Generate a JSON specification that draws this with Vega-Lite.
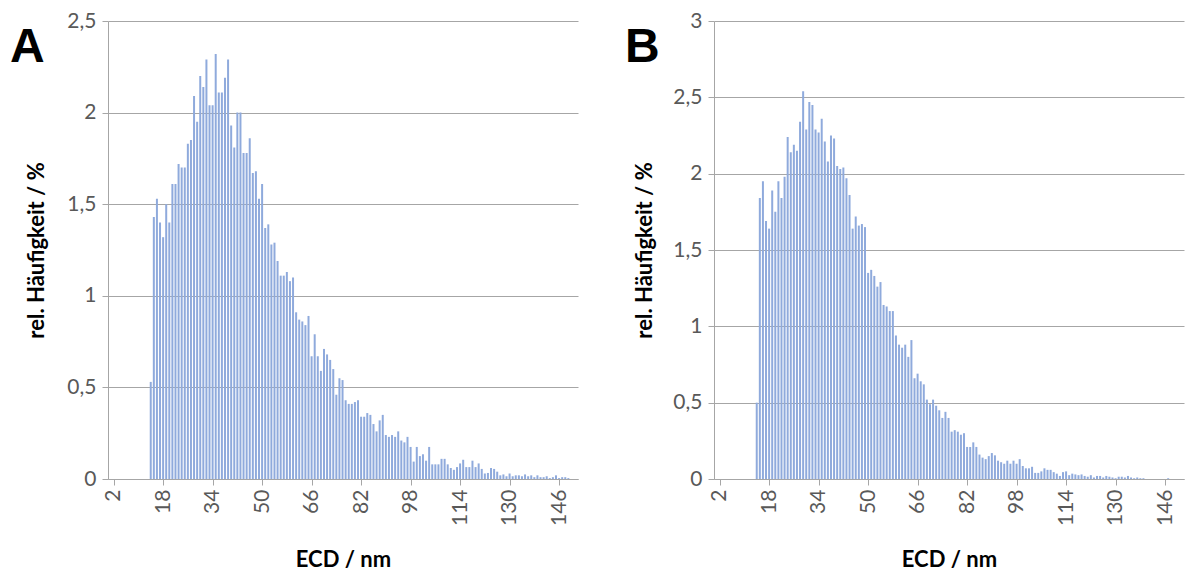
{
  "$schema": "https://vega.github.io/schema/vega-lite/v6.json",
  "padding": {"left": 10, "top": 10, "right": 5, "bottom": 0},
  "datasets": {
    "A": [
      {"ecd":14,"p":0.53},{"ecd":15,"p":1.43},{"ecd":16,"p":1.53},{"ecd":17,"p":1.40},{"ecd":18,"p":1.32},{"ecd":19,"p":1.50},{"ecd":20,"p":1.40},{"ecd":21,"p":1.61},{"ecd":22,"p":1.61},{"ecd":23,"p":1.72},{"ecd":24,"p":1.70},{"ecd":25,"p":1.70},{"ecd":26,"p":1.83},{"ecd":27,"p":1.85},{"ecd":28,"p":2.09},{"ecd":29,"p":1.95},{"ecd":30,"p":2.20},{"ecd":31,"p":2.14},{"ecd":32,"p":2.29},{"ecd":33,"p":2.04},{"ecd":34,"p":2.04},{"ecd":35,"p":2.32},{"ecd":36,"p":2.11},{"ecd":37,"p":2.11},{"ecd":38,"p":2.19},{"ecd":39,"p":2.29},{"ecd":40,"p":1.93},{"ecd":41,"p":1.81},{"ecd":42,"p":2.00},{"ecd":43,"p":2.00},{"ecd":44,"p":1.78},{"ecd":45,"p":1.78},{"ecd":46,"p":1.86},{"ecd":47,"p":1.67},{"ecd":48,"p":1.68},{"ecd":49,"p":1.53},{"ecd":50,"p":1.61},{"ecd":51,"p":1.37},{"ecd":52,"p":1.39},{"ecd":53,"p":1.28},{"ecd":54,"p":1.29},{"ecd":55,"p":1.19},{"ecd":56,"p":1.11},{"ecd":57,"p":1.11},{"ecd":58,"p":1.13},{"ecd":59,"p":1.08},{"ecd":60,"p":1.10},{"ecd":61,"p":0.91},{"ecd":62,"p":0.87},{"ecd":63,"p":0.86},{"ecd":64,"p":0.84},{"ecd":65,"p":0.89},{"ecd":66,"p":0.67},{"ecd":67,"p":0.79},{"ecd":68,"p":0.67},{"ecd":69,"p":0.59},{"ecd":70,"p":0.71},{"ecd":71,"p":0.68},{"ecd":72,"p":0.65},{"ecd":73,"p":0.60},{"ecd":74,"p":0.46},{"ecd":75,"p":0.55},{"ecd":76,"p":0.54},{"ecd":77,"p":0.43},{"ecd":78,"p":0.41},{"ecd":79,"p":0.41},{"ecd":80,"p":0.42},{"ecd":81,"p":0.43},{"ecd":82,"p":0.34},{"ecd":83,"p":0.34},{"ecd":84,"p":0.36},{"ecd":85,"p":0.35},{"ecd":86,"p":0.30},{"ecd":87,"p":0.26},{"ecd":88,"p":0.32},{"ecd":89,"p":0.35},{"ecd":90,"p":0.24},{"ecd":91,"p":0.23},{"ecd":92,"p":0.24},{"ecd":93,"p":0.23},{"ecd":94,"p":0.26},{"ecd":95,"p":0.21},{"ecd":96,"p":0.20},{"ecd":97,"p":0.23},{"ecd":98,"p":0.175},{"ecd":99,"p":0.095},{"ecd":100,"p":0.175},{"ecd":101,"p":0.125},{"ecd":102,"p":0.135},{"ecd":103,"p":0.10},{"ecd":104,"p":0.175},{"ecd":105,"p":0.08},{"ecd":106,"p":0.08},{"ecd":107,"p":0.08},{"ecd":108,"p":0.11},{"ecd":109,"p":0.11},{"ecd":110,"p":0.08},{"ecd":111,"p":0.06},{"ecd":112,"p":0.05},{"ecd":113,"p":0.065},{"ecd":114,"p":0.085},{"ecd":115,"p":0.105},{"ecd":116,"p":0.065},{"ecd":117,"p":0.065},{"ecd":118,"p":0.10},{"ecd":119,"p":0.065},{"ecd":120,"p":0.085},{"ecd":121,"p":0.055},{"ecd":122,"p":0.03},{"ecd":123,"p":0.033},{"ecd":124,"p":0.06},{"ecd":125,"p":0.055},{"ecd":126,"p":0.04},{"ecd":127,"p":0.02},{"ecd":128,"p":0.025},{"ecd":129,"p":0.015},{"ecd":130,"p":0.03},{"ecd":131,"p":0.015},{"ecd":132,"p":0.02},{"ecd":133,"p":0.02},{"ecd":134,"p":0.015},{"ecd":135,"p":0.025},{"ecd":136,"p":0.015},{"ecd":137,"p":0.02},{"ecd":138,"p":0.01},{"ecd":139,"p":0.02},{"ecd":140,"p":0.01},{"ecd":141,"p":0.01},{"ecd":142,"p":0.015},{"ecd":143,"p":0.005},{"ecd":144,"p":0.01},{"ecd":145,"p":0.02},{"ecd":146,"p":0.005},{"ecd":147,"p":0.01},{"ecd":148,"p":0.01},{"ecd":149,"p":0.005}
    ],
    "B": [
      {"ecd":14,"p":0.50},{"ecd":15,"p":1.84},{"ecd":16,"p":1.95},{"ecd":17,"p":1.69},{"ecd":18,"p":1.64},{"ecd":19,"p":1.89},{"ecd":20,"p":1.75},{"ecd":21,"p":1.95},{"ecd":22,"p":1.84},{"ecd":23,"p":1.98},{"ecd":24,"p":2.24},{"ecd":25,"p":2.14},{"ecd":26,"p":2.19},{"ecd":27,"p":2.15},{"ecd":28,"p":2.34},{"ecd":29,"p":2.54},{"ecd":30,"p":2.29},{"ecd":31,"p":2.47},{"ecd":32,"p":2.45},{"ecd":33,"p":2.29},{"ecd":34,"p":2.27},{"ecd":35,"p":2.36},{"ecd":36,"p":2.21},{"ecd":37,"p":2.08},{"ecd":38,"p":2.25},{"ecd":39,"p":2.23},{"ecd":40,"p":2.05},{"ecd":41,"p":2.03},{"ecd":42,"p":2.04},{"ecd":43,"p":1.97},{"ecd":44,"p":1.86},{"ecd":45,"p":1.64},{"ecd":46,"p":1.72},{"ecd":47,"p":1.66},{"ecd":48,"p":1.67},{"ecd":49,"p":1.65},{"ecd":50,"p":1.35},{"ecd":51,"p":1.37},{"ecd":52,"p":1.33},{"ecd":53,"p":1.26},{"ecd":54,"p":1.29},{"ecd":55,"p":1.14},{"ecd":56,"p":1.13},{"ecd":57,"p":1.10},{"ecd":58,"p":1.10},{"ecd":59,"p":0.94},{"ecd":60,"p":0.88},{"ecd":61,"p":0.86},{"ecd":62,"p":0.88},{"ecd":63,"p":0.80},{"ecd":64,"p":0.91},{"ecd":65,"p":0.66},{"ecd":66,"p":0.69},{"ecd":67,"p":0.64},{"ecd":68,"p":0.62},{"ecd":69,"p":0.52},{"ecd":70,"p":0.49},{"ecd":71,"p":0.52},{"ecd":72,"p":0.48},{"ecd":73,"p":0.45},{"ecd":74,"p":0.40},{"ecd":75,"p":0.44},{"ecd":76,"p":0.40},{"ecd":77,"p":0.31},{"ecd":78,"p":0.32},{"ecd":79,"p":0.31},{"ecd":80,"p":0.29},{"ecd":81,"p":0.30},{"ecd":82,"p":0.21},{"ecd":83,"p":0.21},{"ecd":84,"p":0.24},{"ecd":85,"p":0.21},{"ecd":86,"p":0.16},{"ecd":87,"p":0.14},{"ecd":88,"p":0.13},{"ecd":89,"p":0.15},{"ecd":90,"p":0.17},{"ecd":91,"p":0.155},{"ecd":92,"p":0.12},{"ecd":93,"p":0.11},{"ecd":94,"p":0.10},{"ecd":95,"p":0.12},{"ecd":96,"p":0.10},{"ecd":97,"p":0.12},{"ecd":98,"p":0.10},{"ecd":99,"p":0.13},{"ecd":100,"p":0.085},{"ecd":101,"p":0.07},{"ecd":102,"p":0.07},{"ecd":103,"p":0.08},{"ecd":104,"p":0.04},{"ecd":105,"p":0.04},{"ecd":106,"p":0.05},{"ecd":107,"p":0.07},{"ecd":108,"p":0.06},{"ecd":109,"p":0.06},{"ecd":110,"p":0.045},{"ecd":111,"p":0.035},{"ecd":112,"p":0.02},{"ecd":113,"p":0.045},{"ecd":114,"p":0.05},{"ecd":115,"p":0.025},{"ecd":116,"p":0.035},{"ecd":117,"p":0.03},{"ecd":118,"p":0.025},{"ecd":119,"p":0.03},{"ecd":120,"p":0.02},{"ecd":121,"p":0.015},{"ecd":122,"p":0.025},{"ecd":123,"p":0.01},{"ecd":124,"p":0.02},{"ecd":125,"p":0.02},{"ecd":126,"p":0.01},{"ecd":127,"p":0.02},{"ecd":128,"p":0.015},{"ecd":129,"p":0.01},{"ecd":130,"p":0.005},{"ecd":131,"p":0.015},{"ecd":132,"p":0.015},{"ecd":133,"p":0.01},{"ecd":134,"p":0.02},{"ecd":135,"p":0.01},{"ecd":136,"p":0.005},{"ecd":137,"p":0.01},{"ecd":138,"p":0.005},{"ecd":139,"p":0.005},{"ecd":147,"p":0.005}
    ]
  },
  "config": {
    "view": {"stroke": null},
    "font": "Lato",
    "axis": {
      "domainColor": "#a6a6a6",
      "tickColor": "#a6a6a6",
      "gridColor": "#a6a6a6",
      "gridWidth": 1,
      "tickSize": 6,
      "labelColor": "#595959",
      "labelFont": "Lato",
      "labelFontSize": 21,
      "titleFont": "Lato",
      "titleFontSize": 22,
      "titleFontWeight": "bold",
      "titleColor": "#000000"
    }
  },
  "spacing": 47,
  "hconcat": [
    {
      "data": {"name": "A"},
      "width": 470,
      "height": 458,
      "title": {"text": "A", "frame": "group", "anchor": "start", "orient": "top", "offset": -53, "dy": 47, "dx": -98, "font": "Liberation Sans", "fontSize": 48, "fontWeight": "bold", "baseline": "alphabetic", "color": "#000000"},
      "mark": {"type": "bar", "size": 2, "color": "#8faadc"},
      "encoding": {
        "x": {"field": "ecd", "type": "quantitative", "scale": {"domain": [1.8, 150.5], "nice": false, "zero": false},
              "axis": {"values": [2,18,34,50,66,82,98,114,130,146], "labelAngle": -90, "grid": false, "title": "ECD / nm", "titlePadding": 24, "labelPadding": 4}},
        "y": {"field": "p", "type": "quantitative", "scale": {"domain": [0, 2.5], "nice": false},
              "axis": {"values": [0,0.5,1,1.5,2,2.5], "labelExpr": "replace(toString(datum.value), '.', ',')", "grid": true, "title": "rel. Häufigkeit / %", "titlePadding": 18, "labelPadding": 6}}
      }
    },
    {
      "data": {"name": "B"},
      "width": 470,
      "height": 458,
      "title": {"text": "B", "frame": "group", "anchor": "start", "orient": "top", "offset": -53, "dy": 47, "dx": -89, "font": "Liberation Sans", "fontSize": 48, "fontWeight": "bold", "baseline": "alphabetic", "color": "#000000"},
      "mark": {"type": "bar", "size": 2, "color": "#8faadc"},
      "encoding": {
        "x": {"field": "ecd", "type": "quantitative", "scale": {"domain": [1.8, 150.5], "nice": false, "zero": false},
              "axis": {"values": [2,18,34,50,66,82,98,114,130,146], "labelAngle": -90, "grid": false, "title": "ECD / nm", "titlePadding": 24, "labelPadding": 4}},
        "y": {"field": "p", "type": "quantitative", "scale": {"domain": [0, 3], "nice": false},
              "axis": {"values": [0,0.5,1,1.5,2,2.5,3], "labelExpr": "replace(toString(datum.value), '.', ',')", "grid": true, "title": "rel. Häufigkeit / %", "titlePadding": 16, "labelPadding": 6}}
      }
    }
  ]
}
